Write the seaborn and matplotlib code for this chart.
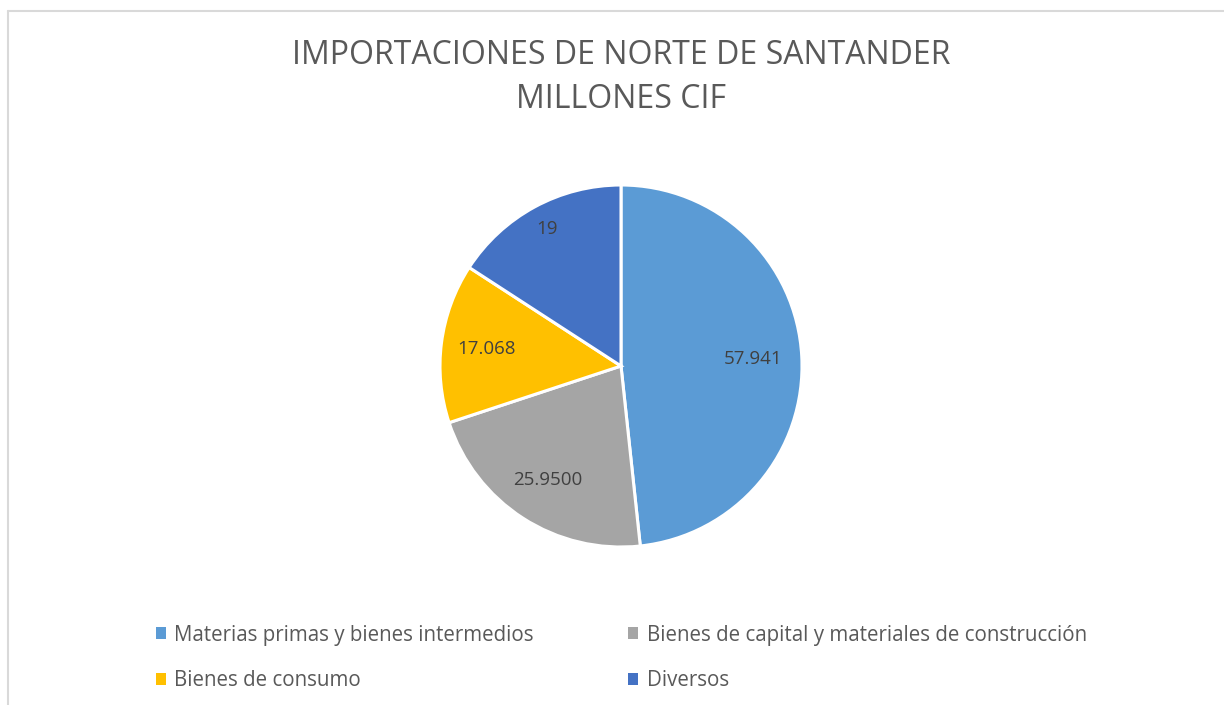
import matplotlib
matplotlib.use("Agg")
import matplotlib.pyplot as plt
from matplotlib.lines import Line2D
from matplotlib.patches import Patch
import numpy as np
import seaborn as sns

# data
categories = ["Materias primas y bienes intermedios",
              "Bienes de capital y materiales de construcción",
              "Bienes de consumo",
              "Diversos"]
values = [57.941, 25.95, 17.068, 19]
value_labels = ["57.941", "25.9500", "17.068", "19"]
colors = ["#5B9BD5", "#A5A5A5", "#FFC000", "#4472C4"]

sns.set_theme(style="white")
plt.rcParams['font.family'] = ['Open Sans', 'DejaVu Sans']
text_color = "#595959"

W, H = 1224, 705
fig = plt.figure(figsize=(W / 100, H / 100), dpi=100)

# chart border (Excel-style chart area)
fig.add_artist(Line2D([7.5 / W, 7.5 / W], [0, 1 - 10.5 / H], transform=fig.transFigure,
                      color="#D9D9D9", linewidth=1.5))
fig.add_artist(Line2D([7.5 / W, 1], [1 - 10.5 / H, 1 - 10.5 / H], transform=fig.transFigure,
                      color="#D9D9D9", linewidth=1.5))

cx, cy, r = 621, 366, 181
ax = fig.add_axes([(cx - r) / W, (H - cy - r) / H, 2 * r / W, 2 * r / H])
wedges, _ = ax.pie(values, colors=colors, startangle=90, counterclock=False,
                   wedgeprops=dict(edgecolor="white", linewidth=2.2))
ax.set_xlim(-1, 1)
ax.set_ylim(-1, 1)
ax.axis("off")

# data labels
dists = [0.73, 0.75, 0.75, 0.86]
for w, lab, d in zip(wedges, value_labels, dists):
    ang = np.deg2rad((w.theta1 + w.theta2) / 2)
    ax.text(d * np.cos(ang), d * np.sin(ang), lab, ha="center", va="center",
            fontsize=13.5, color="#404040")

fig.text(621 / W, 1 - 55 / H, "IMPORTACIONES DE NORTE DE SANTANDER", ha="center", va="center",
         fontsize=23, color=text_color)
fig.text(621 / W, 1 - 100 / H, "MILLONES CIF", ha="center", va="center",
         fontsize=23, color=text_color)

# legend laid out row by row like Excel
order = [0, 2, 1, 3]
handles = [Patch(facecolor=colors[i], edgecolor="none") for i in order]
labels = [categories[i] for i in order]
leg = fig.legend(handles, labels, loc="upper left", bbox_to_anchor=(137 / W, 1 - 606 / H),
                 ncol=2, frameon=False, fontsize=14.8, labelcolor=text_color,
                 handlelength=0.5, handleheight=0.5, handletextpad=0.4,
                 columnspacing=4.6, labelspacing=1.2)

fig.savefig("out.png", dpi=100, facecolor="white")
